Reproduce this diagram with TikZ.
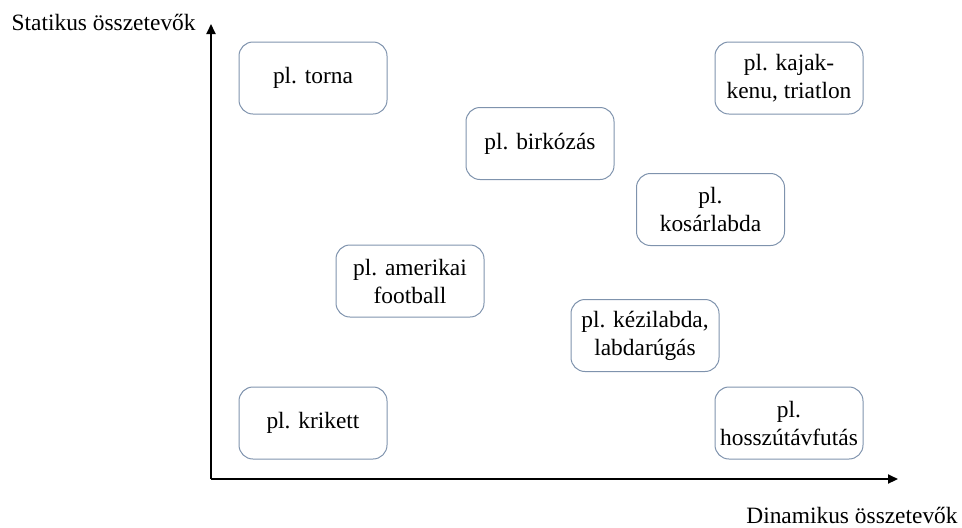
\documentclass[tikz,border=0pt]{standalone}
\usepackage{fontspec}
\setmainfont{Liberation Serif}
\usetikzlibrary{arrows.meta}
\definecolor{boxline}{HTML}{7F93AD}
\tikzset{
  sportbox/.style={draw=boxline,line width=0.5pt,rounded corners=7pt,minimum width=74pt,minimum height=36pt,inner sep=1pt,align=center,font=\fontsize{11.7}{14}\selectfont},
  axislabel/.style={inner sep=0pt,font=\fontsize{11.7}{14}\selectfont},
  axisline/.style={line width=1pt,-{Triangle[length=5pt,width=4.5pt]}}
}
\begin{document}
\begin{tikzpicture}[x=0.5pt,y=-0.5pt]
\useasboundingbox (0,0) rectangle (962,527);

\coordinate (o) at (211,479);
\coordinate (ytop) at (211,24);
\coordinate (xend) at (898,479);
\draw[axisline] (o) -- (ytop);
\draw[axisline] (o) -- (xend);

\node[axislabel,anchor=east] (stat) at (196,22) {Statikus összetevők};
\node[axislabel,anchor=base east] (din) at (958,523) {Dinamikus összetevők};

\node[sportbox] (torna) at (313,78) {pl. torna};
\node[sportbox] (kajak) at (789,78) {pl. kajak-\\kenu, triatlon};
\node[sportbox] (birkozas) at (540,143.5) {pl. birkózás};
\node[sportbox] (kosar) at (710.5,209.5) {pl.\\kosárlabda};
\node[sportbox] (amerikai) at (410,281) {pl. amerikai\\football};
\node[sportbox] (kezi) at (645,335.5) {pl. kézilabda,\\labdarúgás};
\node[sportbox] (krikett) at (313,423) {pl. krikett};
\node[sportbox] (hossz) at (789,423) {pl.\\hosszútávfutás};

\end{tikzpicture}
\end{document}
